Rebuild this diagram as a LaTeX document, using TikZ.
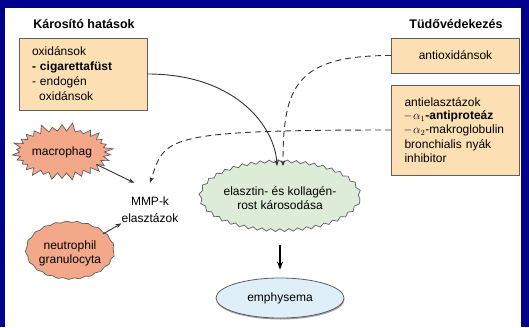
\documentclass[tikz,border=0pt]{standalone}
\usepackage{fontspec}
\setmainfont{Liberation Sans}
\usetikzlibrary{shapes.geometric,shapes.symbols,decorations.pathmorphing,arrows.meta,shadows}
\definecolor{slidebg}{RGB}{0,0,140}
\definecolor{boxfill}{RGB}{252,224,180}
\definecolor{cellfill}{RGB}{243,168,138}
\definecolor{damagefill}{RGB}{221,236,214}
\definecolor{resultfill}{RGB}{222,239,250}
\definecolor{edge}{RGB}{95,95,95}
\begin{document}
\begin{tikzpicture}[
  x=1pt, y=1pt,
  font=\fontsize{12}{14}\selectfont,
  heading/.style={font=\fontsize{12.5}{14}\selectfont\bfseries},
  factorbox/.style={draw=edge, line width=0.9pt, fill=boxfill, minimum width=128pt,
    inner xsep=13pt, text width=102pt, align=left},
  cell/.style={draw=edge, fill=cellfill, line width=0.7pt, align=center},
  link/.style={draw=black!80, line width=0.9pt, -{Stealth[length=6pt,width=4.5pt]}},
  guard/.style={link, dash pattern=on 6pt off 4pt}
]
  \fill[slidebg] (0,0) rectangle (529,327);
  \fill[white] (5,0) rectangle (521,319);

  \node[heading] (harmtitle) at (84,303) {Károsító hatások};
  \node[heading] (defencetitle) at (456,303) {Tüdővédekezés};

  \node[factorbox, minimum height=72pt, font=\fontsize{12}{15}\selectfont] (harm) at (83,253)
    {oxidánsok\\ \textbf{- cigarettafüst}\\ - endogén\\ \hspace*{0.6em}oxidánsok};
  \node[factorbox, minimum height=35pt, align=center] (antiox) at (455.5,271.5) {antioxidánsok};
  \node[factorbox, minimum height=90pt, font=\fontsize{12}{13.5}\selectfont] (antiel) at (455.5,197)
    {antielasztázok\\ {\color{black!60}–}\,$\alpha_1$\textbf{-antiproteáz}\\
     {\color{black!60}–}\,$\alpha_2$-makroglobulin\\[2pt] bronchialis nyák\\ inhibitor};

  \node[cell, starburst, starburst points=30, starburst point height=9pt,
    minimum width=94pt, minimum height=60pt, inner sep=0pt] (macro) at (62,175) {macrophag};
  \node[cell, ellipse, minimum width=71pt, minimum height=57pt, inner sep=0pt,
    decorate, decoration={snake, segment length=11pt, amplitude=0.7pt}] (neutro) at (70,74)
    {neutrophil\\ granulocyta};
  \node[align=center, font=\fontsize{12}{17}\selectfont, inner xsep=0pt, minimum height=54pt]
    (mmp) at (150,117) {MMP-k\\ elasztázok};

  \node[ellipse, draw=edge, fill=damagefill, line width=0.7pt, align=center,
    minimum width=154pt, minimum height=69pt, inner sep=0pt,
    decorate, decoration={snake, segment length=9pt, amplitude=1.4pt}] (damage) at (280,129)
    {elasztin- és kollagén-\\ rost károsodása};
  \node[ellipse, draw=edge, fill=resultfill, line width=0.8pt, minimum width=128pt,
    minimum height=40pt, drop shadow={shadow xshift=0.5pt, shadow yshift=-1.5pt, fill=black!75}]
    (emph) at (280,29) {emphysema};

  \draw[link] (harm.east) .. controls +(90,0) and +(-2,38) .. ([xshift=-3pt,yshift=-3pt]damage.north);
  \draw[guard] (antiox.west) .. controls +(-95,0) and +(0,80) .. ([xshift=3pt,yshift=-3pt]damage.north);
  \draw[guard] (antiel.west) .. controls +(-230,0) and +(15,45) .. (mmp.north);
  \draw[link] (macro.-20) -- (mmp.120);
  \draw[link] (neutro) -- (mmp.205);
  \draw[link, draw=black, line width=1.3pt, -{Stealth[length=8pt,width=6pt]},
    shorten <=12pt, shorten >=8pt] (damage) -- (emph);
\end{tikzpicture}
\end{document}
